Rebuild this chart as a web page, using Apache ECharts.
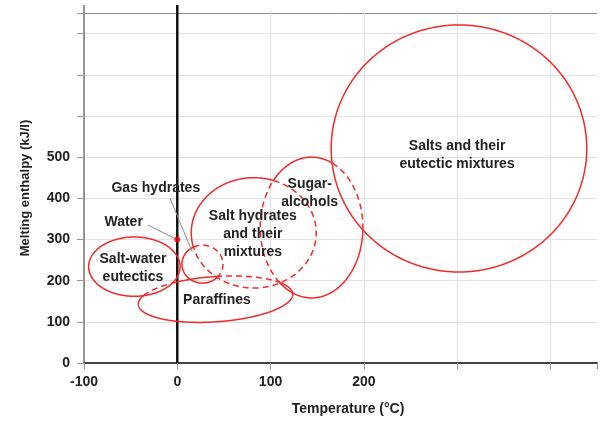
<!DOCTYPE html>
<html><head><meta charset="utf-8">
<script src="https://cdn.jsdelivr.net/npm/echarts@6/dist/echarts.min.js"></script>
<style>html,body{margin:0;padding:0;background:#fff}#c{width:600px;height:421px}</style>
</head><body><div id="c"></div>
<script>
// ---- data ----
const regionNames = ['Salt-water eutectics', 'Paraffines', 'Gas hydrates', 'Salt hydrates and their mixtures', 'Sugar-alcohols', 'Salts and their eutectic mixtures'];
const centerTemp = [-46, 41, 27, 82, 144, 302];          // °C
const centerEnthalpy = [234, 155, 240, 316, 329, 521];   // kJ/l
const halfTempRange = [49, 83, 22, 67, 55, 137];         // °C
const halfEnthalpyRange = [72, 55, 46, 134, 171, 300];   // kJ/l
const waterPoint = [0, 300];

const labelTexts = ['Salt-water\neutectics', 'Paraffines', 'Salt hydrates\nand their\nmixtures', 'Sugar-\nalcohols', 'Salts and their\neutectic mixtures', 'Gas hydrates', 'Water'];
const labelTemp = [-47.5, 42.5, 81, 142, 300, -23, -57.5];
const labelEnthalpy = [231, 153, 314, 413, 505, 425, 342];

const leaderFromTemp = [-8, -31.4];
const leaderFromEnthalpy = [401, 335];
const leaderToTemp = [16, -1.4];
const leaderToEnthalpy = [270, 301];

const xTickLabels = ['-100', '0', '100', '200'];
const yTickLabels = ['0', '100', '200', '300', '400', '500'];

// ---- styling ----
const RED = '#f22a2a';
const FONT = 'bold 14px "Liberation Sans", Arial, sans-serif';
const occluders = [[], [0, 3], [3], [1, 2, 4], [3, 5], []]; // outline drawn dashed inside these
const tiltDeg = [0, -4, 0, 0, 0, 0];

function ellipsePx(api, i) {
  const c = api.coord([centerTemp[i], centerEnthalpy[i]]);
  const c2 = api.coord([centerTemp[i] + halfTempRange[i], centerEnthalpy[i] + halfEnthalpyRange[i]]);
  return { cx: c[0], cy: c[1], rx: Math.abs(c2[0] - c[0]), ry: Math.abs(c2[1] - c[1]), a: tiltDeg[i] * Math.PI / 180 };
}
function inside(e, x, y) {
  const dx = x - e.cx, dy = y - e.cy, c = Math.cos(e.a), s = Math.sin(e.a);
  const u = (dx * c + dy * s) / e.rx, v = (-dx * s + dy * c) / e.ry;
  return u * u + v * v < 1;
}

function renderEllipse(params, api) {
  const i = api.value(0);
  const E = regionNames.map((_, k) => ellipsePx(api, k));
  const e = E[i];
  const N = 720, pts = [], flags = [];
  for (let k = 0; k < N; k++) {
    const t = 2 * Math.PI * k / N;
    const u = e.rx * Math.cos(t), v = e.ry * Math.sin(t);
    const x = e.cx + u * Math.cos(e.a) - v * Math.sin(e.a);
    const y = e.cy + u * Math.sin(e.a) + v * Math.cos(e.a);
    pts.push([x, y]);
    flags.push(occluders[i].some(j => inside(E[j], x, y)));
  }
  let k0 = 0;
  for (let k = 0; k < N; k++) { if (flags[k] !== flags[(k - 1 + N) % N]) { k0 = k; break; } }
  const runs = [];
  let cur = { dashed: flags[k0], pts: [pts[k0]] };
  for (let s = 1; s <= N; s++) {
    const k = (k0 + s) % N;
    cur.pts.push(pts[k]);
    if (s < N && flags[k] !== cur.dashed) {
      runs.push(cur);
      cur = { dashed: flags[k], pts: [pts[k]] };
    }
  }
  runs.push(cur);
  return {
    type: 'group',
    children: runs.map(r => ({
      type: 'polyline',
      shape: { points: r.pts },
      style: { stroke: RED, lineWidth: 1.5, fill: null, lineDash: r.dashed ? [6, 4] : null }
    }))
  };
}

function renderLabel(params, api) {
  const i = api.value(0);
  const p = api.coord([labelTemp[i], labelEnthalpy[i]]);
  return {
    type: 'text', x: p[0], y: p[1],
    style: { text: labelTexts[i], font: FONT, fill: '#222', align: 'center', verticalAlign: 'middle', lineHeight: 18 }
  };
}

function renderLeader(params, api) {
  const i = api.value(0);
  const a = api.coord([leaderFromTemp[i], leaderFromEnthalpy[i]]);
  const b = api.coord([leaderToTemp[i], leaderToEnthalpy[i]]);
  return { type: 'line', shape: { x1: a[0], y1: a[1], x2: b[0], y2: b[1] }, style: { stroke: '#8a8a8a', lineWidth: 1 } };
}

function renderZeroLine(params, api) {
  const a = api.coord([0, 0]);
  const b = api.coord([0, 850]);
  const l = api.coord([-100, 850]);
  return {
    type: 'group',
    children: [
      { type: 'line', shape: { x1: a[0], y1: a[1], x2: b[0], y2: b[1] - 8 }, style: { stroke: '#111', lineWidth: 2.5 } },
      { type: 'line', shape: { x1: l[0], y1: l[1], x2: l[0], y2: l[1] - 8 }, style: { stroke: '#777', lineWidth: 1.5 } }
    ]
  };
}

const chart = echarts.init(document.getElementById('c'));
const xSplitColors = ['#e2e2e2', '#e2e2e2', '#e2e2e2', '#e2e2e2', '#e2e2e2', '#e2e2e2', 'rgba(0,0,0,0)'];
const ySplitColors = ['#e2e2e2', '#e2e2e2', '#e2e2e2', '#e2e2e2', '#e2e2e2', '#e2e2e2', '#e2e2e2', '#e2e2e2', '#e2e2e2', '#8a8a8a'];

chart.setOption({
  animation: false,
  backgroundColor: '#fff',
  grid: { left: 84, right: 3, top: 13, bottom: 58, containLabel: false },
  xAxis: {
    type: 'value', min: -100, max: 450, interval: 100,
    axisLine: { show: true, onZero: false, lineStyle: { color: '#444', width: 2 } },
    axisTick: { show: true, length: 6, lineStyle: { color: '#999' } },
    axisLabel: { margin: 12, color: '#222', fontWeight: 'bold', fontSize: 14, fontFamily: 'Liberation Sans',
      formatter: v => xTickLabels.includes(String(v)) ? String(v) : '' },
    splitLine: { show: true, lineStyle: { color: xSplitColors, width: 1 } },
    name: 'Temperature (°C)', nameLocation: 'middle', nameGap: 39,
    nameTextStyle: { color: '#222', fontWeight: 'bold', fontSize: 14, fontFamily: 'Liberation Sans', padding: [0, 0, 0, 15] }
  },
  yAxis: {
    type: 'value', min: 0, max: 850, interval: 100,
    axisLine: { show: true, onZero: false, lineStyle: { color: '#777', width: 1.5 } },
    axisTick: { show: true, length: 7, lineStyle: { color: '#999' } },
    axisLabel: { margin: 14, color: '#222', fontWeight: 'bold', fontSize: 14, fontFamily: 'Liberation Sans',
      formatter: v => yTickLabels.includes(String(v)) ? String(v) : '' },
    splitLine: { show: true, lineStyle: { color: ySplitColors, width: 1 } },
    name: 'Melting enthalpy (kJ/l)', nameLocation: 'middle', nameGap: 52,
    nameTextStyle: { color: '#222', fontWeight: 'bold', fontSize: 13, fontFamily: 'Liberation Sans' }
  },
  series: [
    { type: 'custom', clip: false, renderItem: renderZeroLine, data: [[0]], z: 3, silent: true },
    { type: 'custom', renderItem: renderEllipse, data: regionNames.map((_, i) => [i]), z: 4, silent: true },
    { type: 'custom', renderItem: renderLeader, data: leaderFromTemp.map((_, i) => [i]), z: 5, silent: true },
    { type: 'scatter', data: [waterPoint], symbolSize: 6, itemStyle: { color: '#f00' }, z: 6, silent: true },
    { type: 'custom', renderItem: renderLabel, data: labelTexts.map((_, i) => [i]), z: 7, silent: true }
  ]
});
</script></body></html>
